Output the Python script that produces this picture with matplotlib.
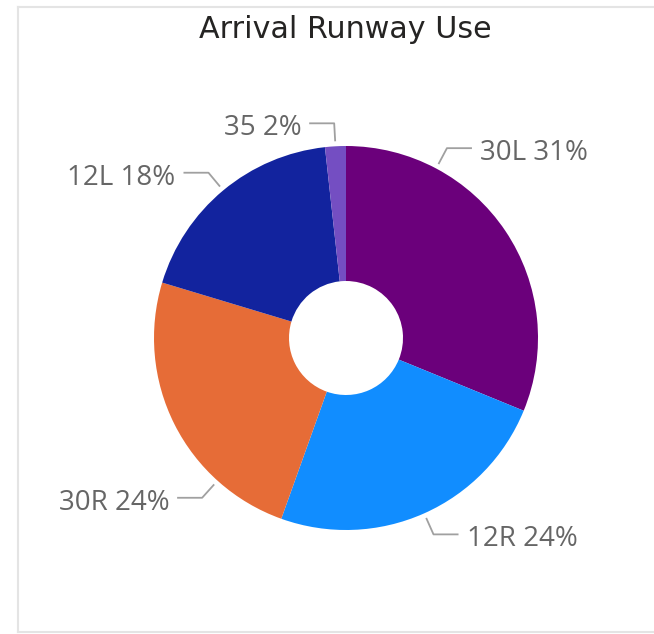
import numpy as np
import matplotlib
matplotlib.use("Agg")
import matplotlib.pyplot as plt

# ---- data ----
runways = ["30L", "12R", "30R", "12L", "35"]
shares = [31.2, 24.3, 24.2, 18.6, 1.75]
labels_pct = ["31%", "24%", "24%", "18%", "2%"]
colors = ["#6B007B", "#118DFF", "#E66C37", "#12239E", "#744EC2"]
title = "Arrival Runway Use"

# ---- layout ----
W, H = 654, 634
cx, cy_img = 346, 338
R_out, R_in = 192, 57
angle_override = {"30L": 62.0, "30R": 228.0}

fig = plt.figure(figsize=(W / 100, H / 100), dpi=100)
ax = fig.add_axes([0, 0, 1, 1])

def Y(y):
    return H - y

cy = Y(cy_img)

wedges, _ = ax.pie(shares, colors=colors, startangle=90, counterclock=False,
                   radius=R_out, center=(cx, cy),
                   wedgeprops=dict(width=R_out - R_in, linewidth=0),
                   frame=True)
ax.set_xlim(0, W)
ax.set_ylim(0, H)
ax.set_aspect("equal")
ax.axis("off")

line_col = "#A0A0A0"
text_col = "#666666"
for w, name, pct in zip(wedges, runways, labels_pct):
    a = angle_override.get(name, (w.theta1 + w.theta2) / 2.0)
    t = np.deg2rad(a)
    ux, uy = np.cos(t), np.sin(t)
    p0 = (cx + (R_out + 5) * ux, cy + (R_out + 5) * uy)
    p1 = (cx + (R_out + 23) * ux, cy + (R_out + 23) * uy)
    side = 1 if ux >= 0 else -1
    p2 = (p1[0] + side * 25, p1[1])
    ax.plot([p0[0], p1[0], p2[0]], [p0[1], p1[1], p2[1]], color=line_col,
            lw=1.3, solid_capstyle="butt")
    ax.text(p2[0] + side * 8, p2[1] - 5, f"{name} {pct}",
            ha="left" if side > 0 else "right", va="center",
            fontsize=20, color=text_col, family=["Open Sans", "DejaVu Sans"])

ax.text(345, Y(29), title, ha="center", va="center", fontsize=21.7,
        color="#252423", family=["DejaVu Sans"])

# frame
fc = "#E4E4E4"
ax.plot([18, 18], [Y(7), Y(632)], color=fc, lw=1.5)
ax.plot([18, W], [Y(7), Y(7)], color=fc, lw=1.5)
ax.plot([18, W], [Y(632), Y(632)], color=fc, lw=1.5)

fig.savefig("out.png", dpi=100, facecolor="white")
